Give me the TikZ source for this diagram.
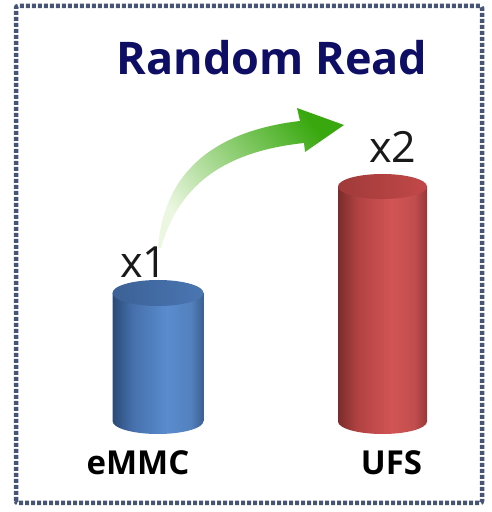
\documentclass[tikz,border=0pt]{standalone}
\usepackage{fontspec}
\setmainfont{Open Sans}
\usetikzlibrary{calc}

\definecolor{framecol}{RGB}{70,84,118}
\definecolor{titlecol}{RGB}{14,14,100}
\definecolor{bluedark}{RGB}{42,74,118}
\definecolor{bluemid}{RGB}{70,112,172}
\definecolor{bluelight}{RGB}{90,140,206}
\definecolor{bluetop}{RGB}{74,118,178}
\definecolor{bluetopdark}{RGB}{60,97,150}
\definecolor{reddark}{RGB}{122,44,44}
\definecolor{redmid}{RGB}{178,66,66}
\definecolor{redlight}{RGB}{210,84,84}
\definecolor{redtop}{RGB}{194,72,72}
\definecolor{redtopdark}{RGB}{160,58,58}
\definecolor{arrowgreen}{RGB}{56,168,14}
\definecolor{arrowpale}{RGB}{236,247,226}

% side shading of a cylinder: dark left rim, bright band right of centre
\pgfdeclarehorizontalshading{bluecyl}{100bp}{color(0bp)=(bluedark); color(25bp)=(bluedark);
  color(36bp)=(bluemid); color(55bp)=(bluelight); color(68bp)=(bluelight!92!black);
  color(75bp)=(bluemid!85!black); color(100bp)=(bluemid!85!black)}
\pgfdeclarehorizontalshading{redcyl}{100bp}{color(0bp)=(reddark); color(25bp)=(reddark);
  color(36bp)=(redmid); color(55bp)=(redlight); color(68bp)=(redlight!92!black);
  color(75bp)=(redmid!85!black); color(100bp)=(redmid!85!black)}

\tikzset{
  frame/.style={draw=framecol, line width=4.5pt, dash pattern=on 4pt off 2pt, rounded corners=2pt},
  title/.style={inner sep=0pt, anchor=base, text=titlecol, font=\fontsize{45}{54}\selectfont\bfseries},
  barlabel/.style={inner sep=0pt, anchor=base, text=black, font=\fontsize{33}{38}\selectfont\bfseries},
  factor/.style={inner sep=0pt, anchor=base, text=black!90, font=\fontsize{43}{50}\selectfont},
}

% cylinder: #1 left x, #2 right x, #3 top centre y, #4 bottom centre y, #5 ry, #6 side shading, #7 top colour, #8 top rim colour
\newcommand{\drawcyl}[8]{%
  \pgfmathsetmacro{\cx}{(#1+#2)/2}
  \pgfmathsetmacro{\rx}{(#2-#1)/2}
  \shade[shading=#6] (#1,#3) -- (#1,#4) arc[start angle=180, end angle=360, x radius=\rx, y radius=#5] -- (#2,#3) -- cycle;
  \shade[left color=#8, right color=#7] (\cx,#3) ellipse[x radius=\rx, y radius=#5];
}

\begin{document}
\begin{tikzpicture}[x=1pt, y=1pt]
  \useasboundingbox (0,0) rectangle (491,512);

  % dotted frame
  \draw[frame] (16,9) rectangle (482,506);

  % title
  \node[title] (title) at (272,437) {Random Read};

  % cylinders
  \drawcyl{112.5}{203.5}{219}{91}{13}{bluecyl}{bluetop}{bluetopdark}
  \drawcyl{338}{427}{325.5}{90.5}{12.5}{redcyl}{redtop}{redtopdark}
  \coordinate (emmctop) at (158,232);
  \coordinate (ufstop) at (382.5,338);

  % growth arrow
  \shade[bottom color=arrowpale, middle color=arrowgreen!55!arrowpale, top color=arrowgreen, shading angle=-50]
    (158,264) .. controls (163,332) and (205,380) .. (300,391)
    -- (297,404) -- (344,387) -- (305,360) -- (304,369)
    .. controls (220,360) and (178,324) .. (161,264) -- cycle;

  % labels
  \node[factor] (f1) at (144,234) {x1};
  \node[factor] (f2) at (393,349) {x2};
  \node[barlabel] (l1) at (138,37) {eMMC};
  \node[barlabel] (l2) at (391.5,37) {UFS};
\end{tikzpicture}
\end{document}
